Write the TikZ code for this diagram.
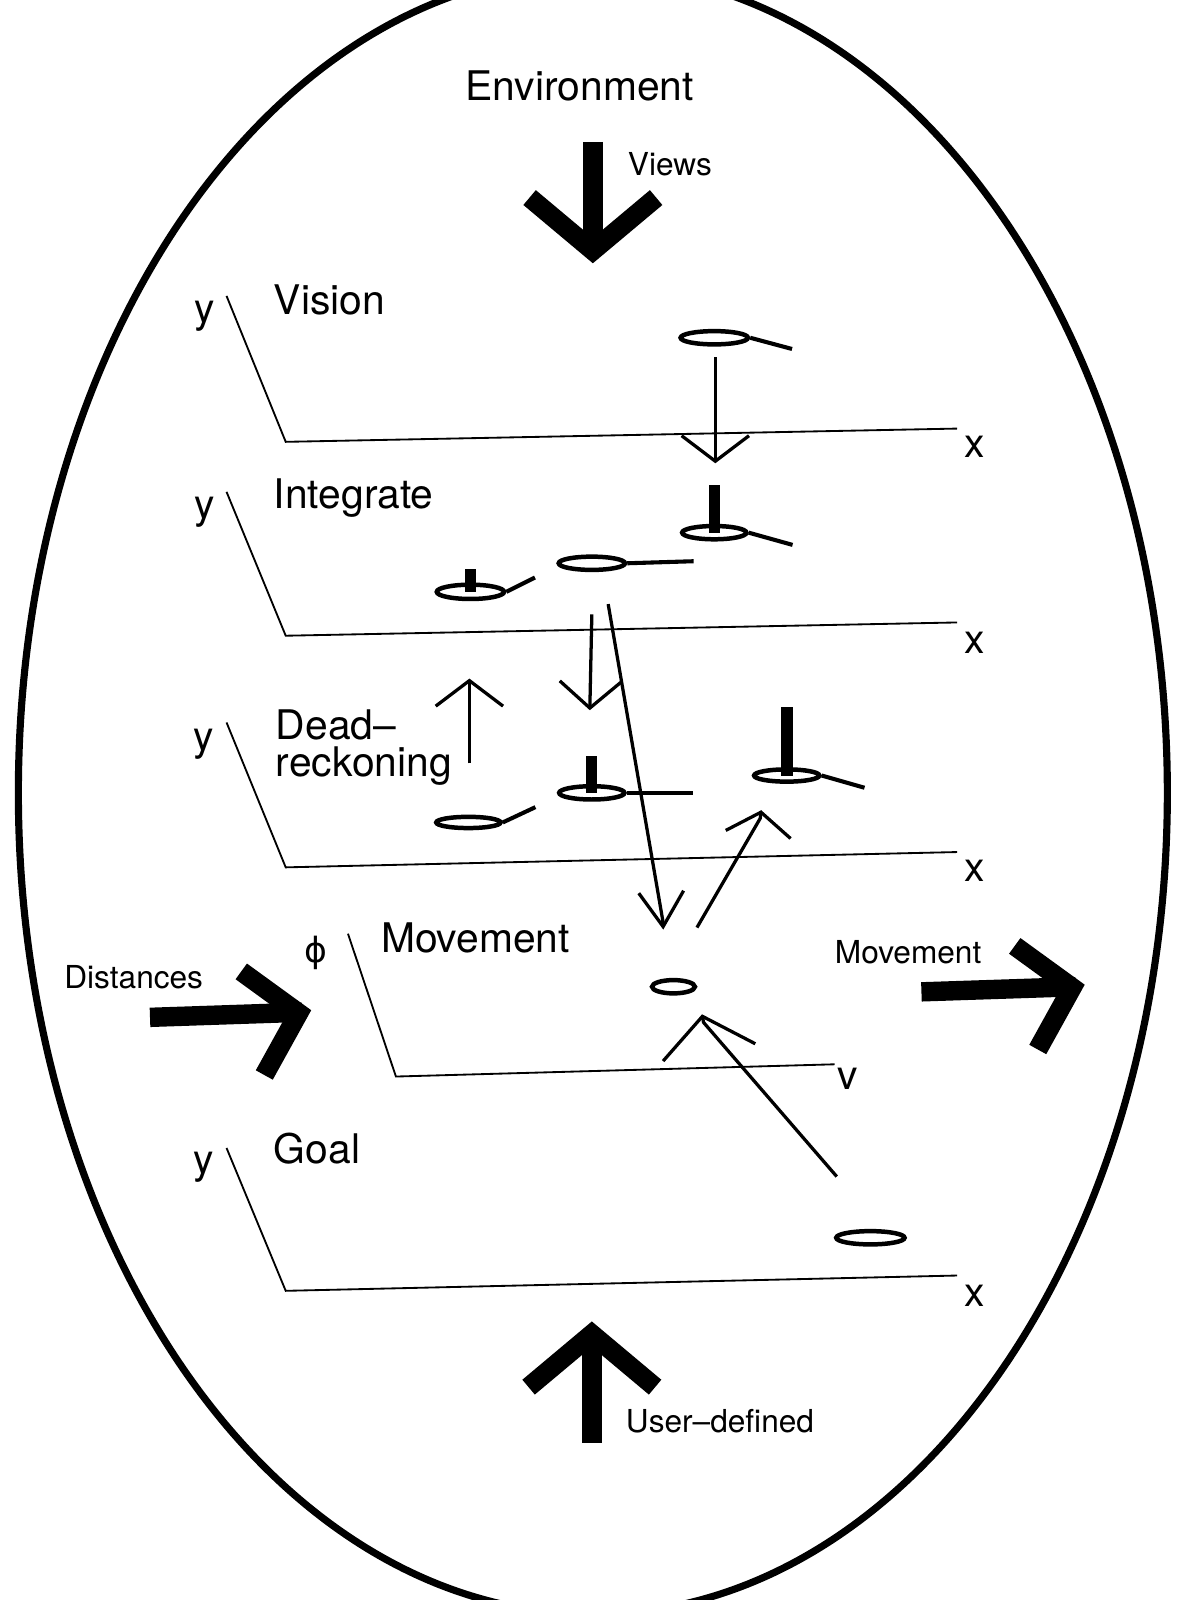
\documentclass[tikz,border=0pt]{standalone}
\usepackage{fontspec}
\setmainfont{TeX Gyre Heros}
\newfontfamily\phifont{DejaVu Sans}
\usetikzlibrary{arrows.meta,shapes.geometric}
\tikzstyle{bigtext} = [font=\fontsize{20}{18}\selectfont, inner sep=0pt]
\tikzstyle{smalltext} = [font=\fontsize{15.5}{18}\selectfont, inner sep=0pt]
\tikzstyle{axis} = [line width=0.9pt]
\tikzstyle{disc} = [ellipse, draw, line width=2.2pt, inner sep=0pt,
    minimum width=33pt, minimum height=6.5pt]
\tikzstyle{tail} = [line width=2pt]
\tikzstyle{pinbar} = [line width=5.5pt]
\tikzstyle{thin} = [line width=1.6pt]
\tikzstyle{fat} = [line width=9.5pt, -{Straight Barb[length=26pt,width=62pt]}]
\tikzstyle{fatside} = [line width=9.5pt, -{Straight Barb[length=23pt,width=52pt]}]

\begin{document}
\begin{tikzpicture}[x=0.5pt,y=-0.5pt]
  \useasboundingbox (0,0) rectangle (1159,1568);
  \clip (0,0) rectangle (1159,1568);
  \draw[line width=3.5pt] (581,777) ellipse [x radius=563, y radius=805];

  % inputs and outputs
  \node[bigtext, anchor=base] (env) at (568,98) {Environment};
  \coordinate (viewsA) at (581,139);
  \coordinate (viewsB) at (581,258);
  \draw[fat] (viewsA) -- (viewsB);
  \node[smalltext, anchor=base west] (views) at (615,172) {Views};

  \node[smalltext, anchor=base] (dist) at (131,969) {Distances};
  \coordinate (distA) at (147,997);
  \coordinate (distK) at (296,992);
  \coordinate (distB) at (305,990);
  \draw[fatside] (distA) -- (distK) -- (distB);

  \node[smalltext, anchor=base] (moveout) at (890,944) {Movement};
  \coordinate (moveA) at (903,972);
  \coordinate (moveK) at (1054,967);
  \coordinate (moveB) at (1063,965);
  \draw[fatside] (moveA) -- (moveK) -- (moveB);

  \coordinate (userA) at (580,1414);
  \coordinate (userB) at (580,1295);
  \draw[fat] (userA) -- (userB);
  \node[smalltext, anchor=base west] (user) at (613,1404) {User–defined};

  % vision layer
  \coordinate (visT) at (222,290);
  \coordinate (visO) at (280,433);
  \coordinate (visE) at (938,420);
  \draw[axis] (visT) -- (visO) -- (visE);
  \node[bigtext, anchor=base] (visy) at (201,316) {y};
  \node[bigtext, anchor=base] (visx) at (955,448) {x};
  \node[bigtext, anchor=base west] (vision) at (268,308) {Vision};
  \node[disc, minimum width=33pt] (vis) at (700,331) {};
  \draw[tail] (vis.east) -- ++(41,11);

  % integrate layer
  \coordinate (intT) at (222,482);
  \coordinate (intO) at (280,623);
  \coordinate (intE) at (938,610);
  \draw[axis] (intT) -- (intO) -- (intE);
  \node[bigtext, anchor=base] (inty) at (201,508) {y};
  \node[bigtext, anchor=base] (intx) at (955,640) {x};
  \node[bigtext, anchor=base west] (integrate) at (268,498) {Integrate};
  \node[disc, minimum width=31.5pt] (intA) at (700,522) {};
  \node[disc, minimum width=32.5pt] (intB) at (580,552) {};
  \node[disc, minimum width=33pt, minimum height=7pt] (intC) at (461,580) {};
  \draw[pinbar] (intA.center) -- ++(0,-47);
  \draw[pinbar] (intC.center) -- ++(0,-22);
  \draw[tail] (intA.east) -- ++(43,12);
  \draw[tail] (intB.east) -- ++(65,-2);
  \draw[tail] (intC.east) -- ++(28,-14);

  % dead-reckoning layer
  \coordinate (deadT) at (222,708);
  \coordinate (deadO) at (280,850);
  \coordinate (deadE) at (938,835);
  \draw[axis] (deadT) -- (deadO) -- (deadE);
  \node[bigtext, anchor=base] (deady) at (200,735) {y};
  \node[bigtext, anchor=base] (deadx) at (955,864) {x};
  \node[bigtext, anchor=base west] (dead) at (270,725) {Dead–};
  \node[bigtext, anchor=base west] (reck) at (270,761) {reckoning};
  \node[disc, minimum width=31.5pt, minimum height=5.5pt] (deadA) at (459,806) {};
  \node[disc, minimum width=32pt] (deadB) at (580,777) {};
  \node[disc, minimum width=32pt, minimum height=6pt] (deadC) at (771,760) {};
  \draw[pinbar] (deadB.center) -- ++(0,-36);
  \draw[pinbar, line width=6pt] (deadC.center) -- ++(0,-67);
  \draw[tail] (deadA.east) -- ++(32,-15);
  \draw[tail] (deadB.east) -- ++(65,0);
  \draw[tail] (deadC.east) -- ++(42,12);

  % movement layer
  \coordinate (movT) at (341,915);
  \coordinate (movO) at (388,1055);
  \coordinate (movE) at (818,1043);
  \draw[axis] (movT) -- (movO) -- (movE);
  \node[font=\phifont\fontsize{17}{18}\selectfont, inner sep=0pt] (movphi) at (310,934) {ϕ};
  \node[bigtext, anchor=base] (movv) at (831,1068) {v};
  \node[bigtext, anchor=base west] (movement) at (373,933) {Movement};
  \node[disc, minimum width=21pt] (mov) at (660,967) {};

  % goal layer
  \coordinate (goalT) at (222,1125);
  \coordinate (goalO) at (280,1265);
  \coordinate (goalE) at (938,1250);
  \draw[axis] (goalT) -- (goalO) -- (goalE);
  \node[bigtext, anchor=base] (goaly) at (200,1150) {y};
  \node[bigtext, anchor=base] (goalx) at (955,1280) {x};
  \node[bigtext, anchor=base west] (goaltxt) at (268,1140) {Goal};
  \node[disc, minimum width=33.5pt] (goal) at (853,1213) {};

  % flows between layers
  \coordinate (a1) at (701,350);
  \coordinate (a2) at (701,454);
  \coordinate (b1) at (580,602);
  \coordinate (b2) at (578,696);
  \coordinate (c1) at (596,592);
  \coordinate (c3) at (649.5,902);
  \coordinate (c2) at (650,911);
  \coordinate (d1) at (460,748);
  \coordinate (d2) at (460,665);
  \coordinate (e1) at (683,909);
  \coordinate (e3) at (745,802);
  \coordinate (e2) at (746,794);
  \coordinate (f1) at (820,1153);
  \coordinate (f3) at (689.5,1002);
  \coordinate (f2) at (688,994);
  \draw[thin, -{Straight Barb[length=12.5pt,width=33pt]}] (a1) -- (a2);
  \draw[thin, -{Straight Barb[length=13pt,width=30pt]}] (b1) -- (b2);
  \draw[thin, -{Straight Barb[length=17pt,width=22pt]}] (c1) -- (c3) -- (c2);
  \draw[thin, -{Straight Barb[length=12.5pt,width=33pt]}] (d1) -- (d2);
  \draw[thin, -{Straight Barb[length=11pt,width=32pt]}] (e1) -- (e3) -- (e2);
  \draw[thin, -{Straight Barb[length=18pt,width=46pt]}] (f1) -- (f3) -- (f2);
\end{tikzpicture}
\end{document}
